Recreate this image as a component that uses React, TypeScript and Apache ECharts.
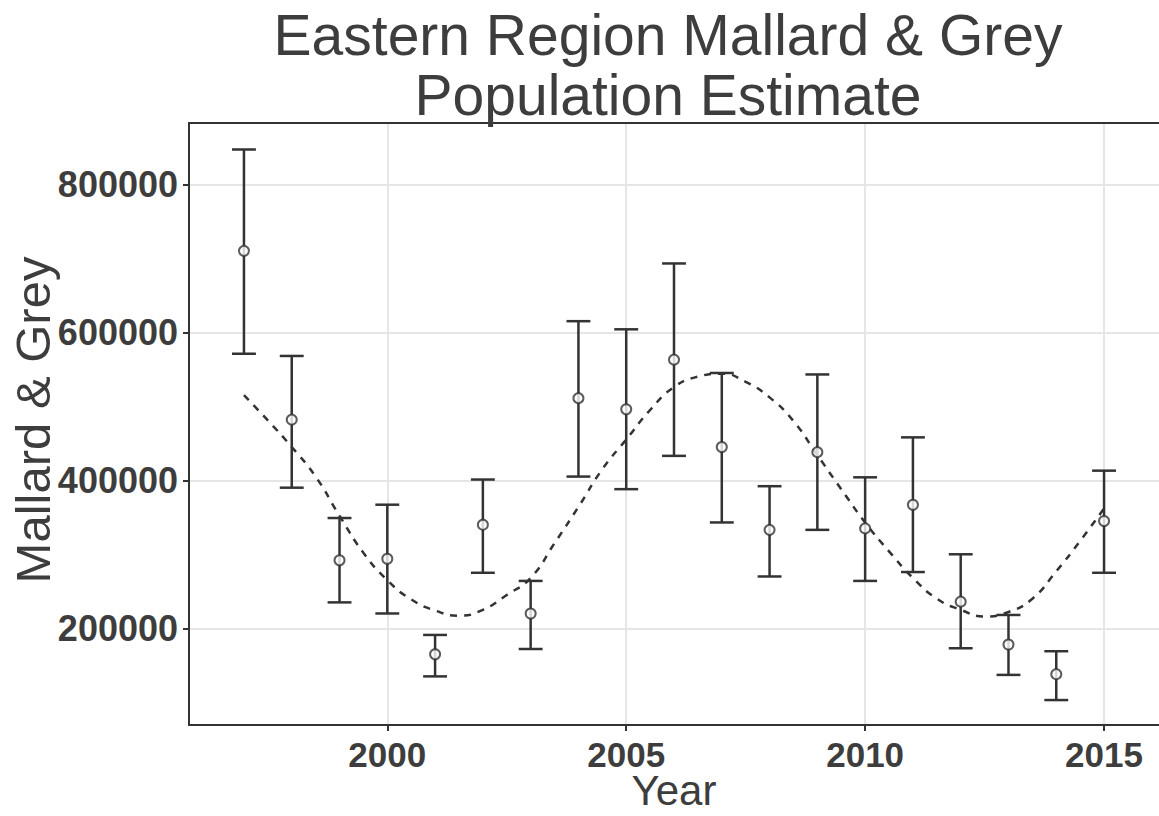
import React, { useEffect, useRef } from "react";
import * as echarts from "echarts";

const years = [1997, 1998, 1999, 2000, 2001, 2002, 2003, 2004, 2005, 2006, 2007, 2008, 2009, 2010, 2011, 2012, 2013, 2014, 2015];
const estimates = [710000, 482000, 292000, 294000, 165000, 340000, 220000, 511000, 496000, 563000, 445000, 333000, 438000, 335000, 367000, 236000, 178000, 138000, 345000];
const lowerCI = [571000, 390000, 235000, 220000, 135000, 275000, 172000, 405000, 388000, 433000, 343000, 270000, 333000, 264000, 276000, 173000, 137000, 103000, 275000];
const upperCI = [847000, 568000, 349000, 367000, 191000, 401000, 264000, 615000, 604000, 693000, 545000, 392000, 543000, 404000, 458000, 300000, 218000, 169000, 413000];

const trendYears = [1997, 1997.5, 1998, 1998.5, 1999, 1999.5, 2000, 2000.5, 2001, 2001.5, 2002, 2002.5, 2003, 2003.5, 2004, 2004.5, 2005, 2005.5, 2006, 2006.5, 2007, 2007.5, 2008, 2008.5, 2009, 2009.5, 2010, 2010.5, 2011, 2011.5, 2012, 2012.5, 2013, 2013.5, 2014, 2014.5, 2015];
const trendValues = [515000, 481000, 445000, 405000, 352000, 302000, 265000, 239000, 224000, 217000, 225000, 245000, 268000, 315000, 364000, 415000, 455000, 495000, 526000, 540000, 544000, 533000, 512000, 480000, 434000, 388000, 343000, 304000, 268000, 240000, 225000, 216000, 222000, 240000, 277000, 318000, 362000];

const xTicks = [2000, 2005, 2010, 2015];
const yTicks = [200000, 400000, 600000, 800000];

const TITLE = "Eastern Region Mallard & Grey\nPopulation Estimate";
const X_NAME = "Year";
const Y_NAME = "Mallard & Grey";

const FONT = "'Liberation Sans', Arial, Helvetica, sans-serif";
const INK = "#3d3d3d";
const CAP = 0.25;

export default function App() {
  const ref = useRef<HTMLDivElement>(null);

  useEffect(() => {
    if (!ref.current) return;
    const chart = echarts.init(ref.current, null, { renderer: "svg" });

    const barData = years.map((y, i) => [y, lowerCI[i], upperCI[i]]);
    const pointData = years.map((y, i) => [y, estimates[i]]);
    const trendData = trendYears.map((y, i) => [y, trendValues[i]]);

    const axisLineStyle = { color: "#333", width: 2 };
    const gridLine = { show: true, lineStyle: { color: "#e6e6e6", width: 2 } };

    chart.setOption({
      animation: false,
      backgroundColor: "#fff",
      title: {
        text: TITLE,
        left: 668,
        top: 5,
        padding: 0,
        textAlign: "center",
        textStyle: { fontFamily: FONT, fontSize: 57, fontWeight: "normal", color: INK, lineHeight: 60 },
      },
      graphic: [
        {
          type: "text",
          x: 674,
          y: 790,
          silent: true,
          style: {
            text: X_NAME,
            fontFamily: FONT,
            fontSize: 42,
            lineHeight: 40,
            fill: INK,
            align: "center",
            verticalAlign: "middle",
          },
        },
        {
          type: "text",
          x: 33,
          y: 420,
          rotation: Math.PI / 2,
          silent: true,
          style: {
            text: Y_NAME,
            fontFamily: FONT,
            fontSize: 49,
            lineHeight: 44,
            fill: INK,
            align: "center",
            verticalAlign: "middle",
          },
        },
      ],
      grid: { left: 189, top: 123, right: 0, bottom: 91, containLabel: false, outerBoundsMode: "none" },
      xAxis: [
        {
          type: "value",
          min: 1995.85,
          max: 2016.15,
          axisLine: { show: true, lineStyle: axisLineStyle },
          axisTick: { show: true, length: 6, customValues: xTicks, lineStyle: axisLineStyle },
          axisLabel: {
            customValues: xTicks,
            fontFamily: FONT,
            fontSize: 35,
            fontWeight: "bold",
            color: INK,
            margin: 12,
            formatter: (v: number) => String(v),
          },
          splitLine: gridLine,
        },
        {
          type: "value",
          position: "top",
          min: 1995.85,
          max: 2016.15,
          axisLine: { show: true, lineStyle: axisLineStyle },
          axisTick: { show: false },
          axisLabel: { show: false },
          splitLine: { show: false },
        },
      ],
      yAxis: {
        type: "value",
        min: 69300,
        max: 882800,
        axisLine: { show: true, lineStyle: axisLineStyle },
        axisTick: { show: true, length: 6, customValues: yTicks, lineStyle: axisLineStyle },
        axisLabel: {
          customValues: yTicks,
          fontFamily: FONT,
          fontSize: 36,
          fontWeight: "bold",
          color: INK,
          margin: 11,
          formatter: (v: number) => String(v),
        },
        splitLine: gridLine,
      },
      series: [
        {
          type: "line",
          data: trendData,
          smooth: true,
          showSymbol: false,
          symbol: "none",
          lineStyle: { color: "#333", width: 2.5, type: [7, 7] },
          z: 3,
        },
        {
          type: "custom",
          data: barData,
          z: 4,
          renderItem: (params: any, api: any) => {
            const x = api.value(0);
            const lo = api.value(1);
            const hi = api.value(2);
            const pLo = api.coord([x, lo]);
            const pHi = api.coord([x, hi]);
            const xl = api.coord([x - CAP, hi])[0];
            const xr = api.coord([x + CAP, hi])[0];
            const style = { stroke: "#333", lineWidth: 2.5 };
            return {
              type: "group",
              children: [
                { type: "line", shape: { x1: pLo[0], y1: pLo[1], x2: pHi[0], y2: pHi[1] }, style },
                { type: "line", shape: { x1: xl, y1: pHi[1], x2: xr, y2: pHi[1] }, style },
                { type: "line", shape: { x1: xl, y1: pLo[1], x2: xr, y2: pLo[1] }, style },
              ],
            };
          },
        },
        {
          type: "scatter",
          data: pointData,
          symbol: "circle",
          symbolSize: 10,
          itemStyle: { color: "#fff", borderColor: "#333", borderWidth: 2 },
          z: 5,
        },
      ],
    });

    return () => chart.dispose();
  }, []);

  return (
    <div
      ref={ref}
      style={{ position: "fixed", left: 0, top: 0, width: 1159, height: 816 }}
    />
  );
}
